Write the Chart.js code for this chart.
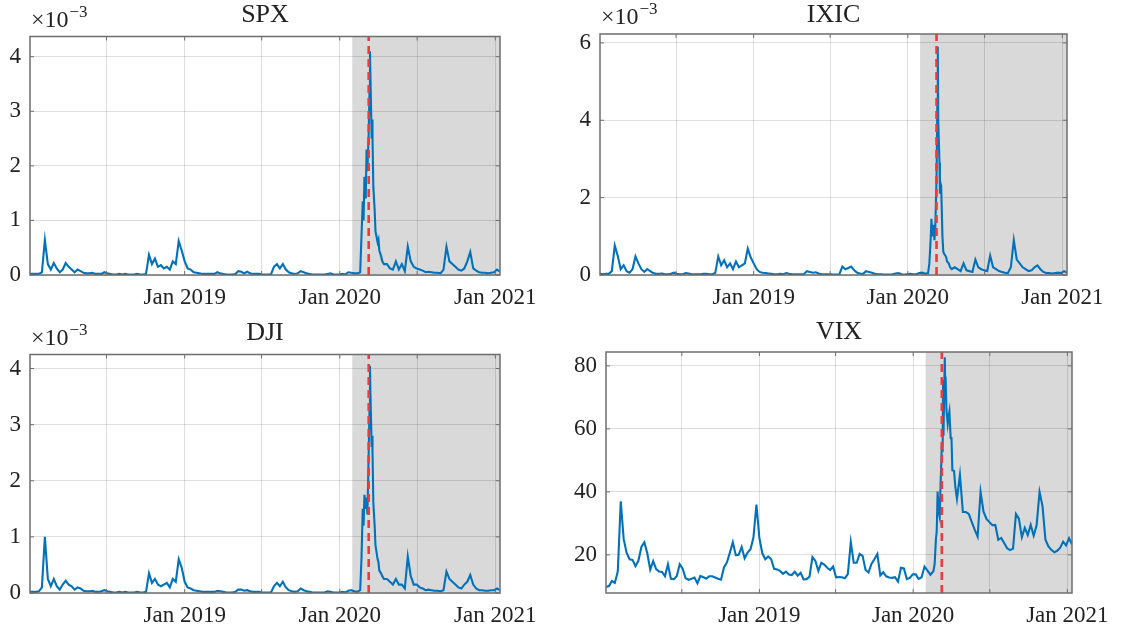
<!DOCTYPE html>
<html><head><meta charset="utf-8">
<script src="https://cdn.jsdelivr.net/npm/chart.js@4.4.0/dist/chart.umd.min.js"></script>
<style>
html,body{margin:0;padding:0;background:#fff;width:1125px;height:632px;overflow:hidden}
canvas{position:absolute}
</style></head><body>
<canvas id="c1" width="562" height="316" style="left:0;top:0"></canvas>
<canvas id="c2" width="563" height="316" style="left:562px;top:0"></canvas>
<canvas id="c3" width="562" height="316" style="left:0;top:316px"></canvas>
<canvas id="c4" width="563" height="316" style="left:562px;top:316px"></canvas>
<script>
// ---------------- DATA ----------------
// weekly observations 2018-01-02 .. 2020-02-18, denser crisis dates, weekly 2020-04-21 .. 2021-01-12
const crisisDates = ['2020-02-21','2020-02-24','2020-02-26','2020-02-28','2020-03-02','2020-03-04','2020-03-06',
  '2020-03-09','2020-03-11','2020-03-12','2020-03-13','2020-03-16','2020-03-17','2020-03-18','2020-03-20',
  '2020-03-23','2020-03-25','2020-03-27','2020-03-30','2020-04-01','2020-04-03','2020-04-07','2020-04-10','2020-04-14'];
const grayStartDate = '2020-01-30';
const eventDate = '2020-03-09';
const xTickDates = ['2018-07-01','2019-01-01','2019-07-01','2020-01-01','2020-07-01','2021-01-01'];
const xTickLabels = ['', 'Jan 2019', '', 'Jan 2020', '', 'Jan 2021'];

// SPX (x 1e-3)
const spx = [
 0.02,0.02,0.02,0.02,0.05,0.64,0.2,0.1,0.22,0.12,
 0.05,0.1,0.22,0.15,0.1,0.05,0.1,0.07,0.04,0.03,
 0.03,0.04,0.02,0.02,0.02,0.05,0.03,0.02,0.01,0.01,
 0.02,0.01,0.02,0.01,0.01,0.01,0.02,0.01,0.01,0.02,
 0.37,0.2,0.3,0.15,0.18,0.12,0.15,0.1,0.25,0.2,
 0.62,0.45,0.25,0.12,0.1,0.05,0.04,0.03,0.02,0.02,
 0.02,0.02,0.02,0.05,0.03,0.02,0.01,0.01,0.01,0.02,
 0.07,0.06,0.03,0.06,0.03,0.02,0.02,0.02,0.01,0.01,
 0.01,0.01,0.15,0.2,0.12,0.2,0.1,0.05,0.03,0.02,
 0.03,0.07,0.05,0.03,0.02,0.01,0.01,0.01,0.01,0.01,
 0.02,0.03,0.01,0.01,0.01,0.02,0.01,0.05,0.04,0.03,
 0.03,0.05,
 // crisis
 0.7,1.35,1.0,1.8,1.4,2.3,1.9,2.6,3.4,4.1,3.7,2.5,2.85,2.5,1.6,1.2,0.8,0.72,0.6,0.65,0.45,0.35,0.25,0.2,
 // after
 0.2,0.12,0.1,0.25,0.1,0.2,0.07,0.52,0.25,0.15,
 0.12,0.1,0.08,0.05,0.06,0.05,0.04,0.04,0.03,0.1,
 0.52,0.25,0.2,0.15,0.1,0.08,0.12,0.25,0.42,0.12,
 0.08,0.05,0.04,0.04,0.03,0.04,0.05,0.1,0.06
];
// IXIC (x 1e-3)
const ixic = [
 0.03,0.02,0.03,0.03,0.1,0.76,0.5,0.15,0.25,0.1,
 0.06,0.15,0.48,0.3,0.15,0.08,0.15,0.1,0.05,0.03,
 0.03,0.04,0.02,0.02,0.03,0.06,0.03,0.02,0.02,0.05,
 0.04,0.02,0.02,0.02,0.02,0.03,0.03,0.02,0.02,0.05,
 0.48,0.25,0.38,0.2,0.3,0.15,0.35,0.2,0.25,0.3,
 0.68,0.45,0.3,0.15,0.08,0.06,0.05,0.04,0.03,0.02,
 0.02,0.03,0.02,0.05,0.03,0.02,0.02,0.02,0.02,0.02,
 0.1,0.08,0.06,0.07,0.04,0.02,0.02,0.02,0.02,0.01,
 0.01,0.02,0.22,0.15,0.18,0.22,0.12,0.06,0.04,0.03,
 0.1,0.08,0.06,0.03,0.02,0.02,0.01,0.01,0.01,0.02,
 0.04,0.05,0.02,0.01,0.02,0.03,0.02,0.02,0.05,0.06,
 0.03,0.05,
 0.3,0.9,1.45,1.0,1.3,0.9,1.2,2.5,4.5,5.9,4.0,2.9,2.1,2.4,2.3,1.0,0.6,0.55,0.5,0.45,0.35,0.3,0.2,0.15,
 0.2,0.15,0.1,0.3,0.12,0.1,0.08,0.4,0.2,0.15,
 0.12,0.1,0.5,0.2,0.15,0.1,0.08,0.06,0.05,0.2,
 0.9,0.4,0.3,0.2,0.15,0.1,0.12,0.2,0.25,0.15,
 0.08,0.05,0.05,0.04,0.05,0.06,0.05,0.1,0.06
];
// DJI (x 1e-3)
const dji = [
 0.02,0.02,0.02,0.03,0.1,1.0,0.25,0.12,0.25,0.12,
 0.06,0.15,0.22,0.15,0.12,0.06,0.1,0.08,0.04,0.03,
 0.03,0.04,0.02,0.02,0.03,0.05,0.03,0.02,0.01,0.01,
 0.02,0.01,0.02,0.01,0.01,0.01,0.02,0.01,0.01,0.02,
 0.35,0.18,0.25,0.15,0.12,0.15,0.18,0.1,0.25,0.2,
 0.6,0.45,0.2,0.1,0.08,0.05,0.04,0.03,0.02,0.02,
 0.02,0.02,0.02,0.04,0.03,0.02,0.01,0.01,0.01,0.02,
 0.06,0.06,0.04,0.05,0.03,0.02,0.02,0.02,0.01,0.01,
 0.01,0.01,0.12,0.18,0.12,0.2,0.1,0.05,0.03,0.02,
 0.03,0.08,0.05,0.03,0.02,0.01,0.01,0.01,0.01,0.01,
 0.03,0.02,0.01,0.01,0.01,0.02,0.01,0.04,0.05,0.03,
 0.02,0.05,
 0.6,1.5,1.2,1.75,1.5,1.7,1.4,2.5,3.3,4.05,3.6,2.6,2.8,2.5,1.6,1.2,0.85,0.75,0.6,0.55,0.4,0.35,0.3,0.25,
 0.25,0.2,0.15,0.25,0.15,0.15,0.08,0.65,0.3,0.15,
 0.15,0.1,0.08,0.05,0.06,0.05,0.04,0.04,0.03,0.05,
 0.38,0.25,0.2,0.15,0.1,0.08,0.15,0.2,0.32,0.15,
 0.08,0.05,0.05,0.04,0.04,0.05,0.05,0.08,0.05
];
// VIX (index level)
const vix = [
 9.8,10.1,11.7,11.1,14.8,37.0,25.0,20.6,18.6,18.4,
 16.4,18.2,22.5,24.0,20.5,15.3,18.0,15.5,14.7,14.6,
 13.2,17.0,12.4,12.3,13.3,17.0,15.6,12.6,12.1,12.4,
 12.8,11.0,13.3,12.9,12.5,13.2,13.2,12.8,12.4,12.1,
 16.0,17.6,20.7,24.0,19.9,20.0,22.5,18.9,20.7,21.8,
 25.6,36.0,25.4,20.5,18.6,19.5,18.6,15.6,15.4,14.9,
 14.0,14.7,13.8,13.6,14.7,13.4,14.3,12.2,12.3,13.1,
 19.3,18.1,14.9,17.5,16.9,15.9,15.2,16.3,12.9,13.0,
 12.9,12.6,13.9,24.0,17.5,17.5,20.3,19.7,15.2,14.4,
 17.1,18.6,20.3,13.5,14.5,13.2,12.8,12.7,12.9,11.5,
 15.9,15.7,12.3,12.7,13.8,13.8,12.4,12.9,16.3,15.0,
 13.7,14.8,
 17.1,25.0,27.6,40.1,33.4,32.0,41.9,54.5,53.9,75.5,57.8,82.7,75.9,76.5,66.0,61.6,63.9,65.5,57.1,57.1,46.8,46.7,41.7,37.8,
 45.4,33.6,33.6,33.0,30.5,28.0,25.8,40.0,33.7,31.4,
 30.4,29.4,29.5,24.8,25.4,23.8,22.1,21.5,22.0,33.0,
 31.5,25.6,28.6,26.3,29.5,26.1,29.4,40.0,35.5,24.8,
 22.7,21.6,20.8,21.3,22.3,24.2,23.0,25.3,23.3
];
const spxTicks = [0,1,2,3,4];
const ixicTicks = [0,2,4,6];
const djiTicks = [0,1,2,3,4];
const vixTicks = [20,40,60,80];

// ---------------- HELPERS ----------------
const BASE = Date.UTC(2018,0,1);
const dayOf = s => { const [y,m,d] = s.split('-').map(Number); return (Date.UTC(y,m-1,d)-BASE)/86400000; };
function weekly(from, to){ const out=[]; for(let t=dayOf(from); t<=dayOf(to); t+=7) out.push(t); return out; }
const xDays = [...weekly('2018-01-02','2020-02-18'), ...crisisDates.map(dayOf), ...weekly('2020-04-21','2021-01-12')];
const xMin = xDays[0], xMax = xDays[xDays.length-1];
const xTickDays = xTickDates.map(dayOf);
const F = "'Liberation Serif', 'DejaVu Serif', serif";
const TXT = '#222222';

const boxPlugin = {
  id:'box',
  afterDatasetsDraw(chart){
    const {ctx, chartArea:a, scales:{x,y}} = chart;
    ctx.save();
    ctx.strokeStyle = '#6e6e6e'; ctx.lineWidth = 1;
    ctx.beginPath();
    x.ticks.forEach(t=>{ const px=x.getPixelForValue(t.value);
      ctx.moveTo(px,a.bottom); ctx.lineTo(px,a.bottom-4); ctx.moveTo(px,a.top); ctx.lineTo(px,a.top+4); });
    y.ticks.forEach(t=>{ const py=y.getPixelForValue(t.value);
      ctx.moveTo(a.left,py); ctx.lineTo(a.left+4,py); ctx.moveTo(a.right,py); ctx.lineTo(a.right-4,py); });
    ctx.stroke();
    ctx.lineWidth = 1.5;
    ctx.strokeRect(a.left, a.top, a.right-a.left, a.bottom-a.top);
    ctx.restore();
  }
};
const multPlugin = {
  id:'mult',
  afterDraw(chart, args, opts){
    if(!opts.show) return;
    const {ctx, chartArea:a} = chart;
    ctx.save();
    ctx.fillStyle = TXT; ctx.textBaseline = 'alphabetic'; ctx.textAlign = 'left';
    ctx.font = "24px " + F;
    const base = a.top - 10;
    ctx.fillText('\u00d710', a.left + 1, base);
    const w = ctx.measureText('\u00d710').width;
    ctx.font = "17px " + F;
    ctx.fillText('\u22123', a.left + 2 + w, base - 10);
    ctx.restore();
  }
};

function makePanel(id, title, values, yMin, yMax, yTicks, mult, L){
  const grayDay = dayOf(grayStartDate), evDay = dayOf(eventDate);
  new Chart(document.getElementById(id), {
    type:'line',
    data:{ datasets:[
      {label:'event', data:[{x:evDay,y:yMin},{x:evDay,y:yMax}], borderColor:'#ec3b3b', borderWidth:2.6,
       borderDash:[8,5], pointRadius:0, order:0},
      {label:title, data:xDays.map((x,i)=>({x, y:values[i]})), borderColor:'#0072BD', borderWidth:2.1,
       pointRadius:0, tension:0, order:1},
      {label:'period', data:[{x:grayDay,y:yMax},{x:xMax,y:yMax}], borderWidth:0, borderColor:'rgba(0,0,0,0)',
       fill:'start', backgroundColor:'rgba(0,0,0,0.15)', pointRadius:0, order:2}
    ]},
    options:{
      responsive:false, animation:false, events:[],
      layout:{padding:{left:0, right:L.padRight, top:0, bottom:0}},
      plugins:{
        legend:{display:false}, tooltip:{enabled:false},
        title:{display:true, fullSize:false, text:title, color:TXT, font:{family:F, size:26, weight:'normal'},
               padding:{top:L.titleTop, bottom:L.titleBottom}},
        mult:{show:mult}
      },
      scales:{
        x:{type:'linear', min:xMin, max:xMax,
           afterFit:s=>{ s.height = L.xH; },
           afterBuildTicks:s=>{ s.ticks = xTickDays.map(v=>({value:v})); },
           ticks:{autoSkip:false, maxRotation:0, minRotation:0, padding:9, color:TXT,
                  font:{family:F, size:23}, callback:(v,i)=>xTickLabels[i]},
           grid:{color:'rgba(0,0,0,0.13)', lineWidth:1, drawTicks:false},
           border:{display:false}},
        y:{type:'linear', min:yMin, max:yMax,
           afterFit:s=>{ s.width = L.yW; },
           afterBuildTicks:s=>{ s.ticks = yTicks.map(v=>({value:v})); },
           ticks:{padding:9, color:TXT, font:{family:F, size:23}, callback:v=>String(v)},
           grid:{color:'rgba(0,0,0,0.13)', lineWidth:1, drawTicks:false},
           border:{display:false}}
      }
    },
    plugins:[boxPlugin, multPlugin]
  });
}

makePanel('c1','SPX', spx, 0, 4.37, spxTicks, true,  {yW:30, padRight:62, titleTop:0, titleBottom:5.3, xH:41});
makePanel('c2','IXIC', ixic, 0, 6.23, ixicTicks, true, {yW:38, padRight:58, titleTop:0, titleBottom:2.8, xH:41});
makePanel('c3','DJI', dji, 0, 4.25, djiTicks, true,  {yW:30, padRight:62, titleTop:2, titleBottom:5.3, xH:39});
makePanel('c4','VIX', vix, 7.9, 84.4, vixTicks, false, {yW:44, padRight:53, titleTop:1, titleBottom:3.8, xH:39});
</script>
</body></html>
